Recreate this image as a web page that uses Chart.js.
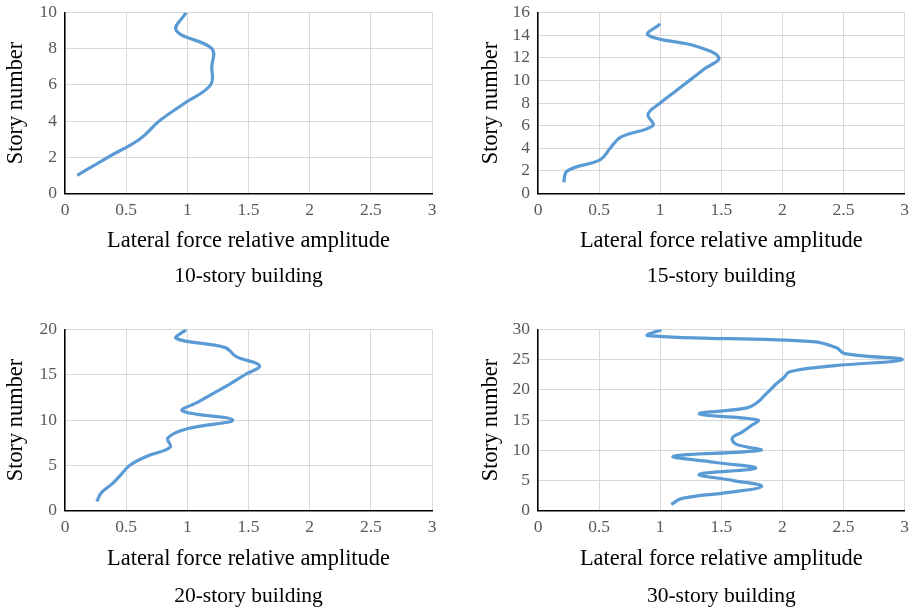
<!DOCTYPE html>
<html>
<head>
<meta charset="utf-8">
<script src="https://cdn.jsdelivr.net/npm/chart.js@4.4.1/dist/chart.umd.min.js"></script>
<style>
  html, body { margin: 0; padding: 0; background: #fff; }
  body { width: 915px; height: 612px; position: relative; overflow: hidden; }
  .panel { position: absolute; }
</style>
</head>
<body>
<div class="panel" style="left:0;top:-6px;width:457px;height:306px"><canvas id="chart10"></canvas></div>
<div class="panel" style="left:470px;top:-6px;width:445px;height:306px"><canvas id="chart15"></canvas></div>
<div class="panel" style="left:0;top:311px;width:457px;height:301px"><canvas id="chart20"></canvas></div>
<div class="panel" style="left:470px;top:311px;width:445px;height:301px"><canvas id="chart30"></canvas></div>
<script>
// story numbers and lateral force relative amplitude
const stories10 = [1, 2, 3, 4, 5, 6, 7, 8, 9, 10];
const amp10 = [0.10, 0.35, 0.61, 0.77, 0.98, 1.19, 1.20, 1.20, 0.91, 0.99];

const stories15 = [1, 2, 3, 4, 5, 6, 7, 8, 9, 10, 11, 12, 13, 14, 15];
const amp15 = [0.21, 0.24, 0.51, 0.59, 0.68, 0.94, 0.90, 1.00, 1.12, 1.24, 1.36, 1.48, 1.30, 0.90, 1.00];

const stories20 = [1, 2, 3, 4, 5, 6, 7, 8, 9, 10, 11, 12, 13, 14, 15, 16, 17, 18, 19, 20];
const amp20 = [0.26, 0.30, 0.39, 0.46, 0.53, 0.67, 0.86, 0.84, 0.99, 1.37, 0.96, 1.09, 1.22, 1.35, 1.47, 1.59, 1.40, 1.31, 0.91, 0.99];

const stories30 = [1, 2, 3, 4, 5, 6, 7, 8, 9, 10, 11, 12, 13, 14, 15,
  16, 17, 18, 19, 20, 21, 22, 23, 24, 25, 26, 27, 28, 29, 30];
const amp30 = [1.09, 1.18, 1.56, 1.83, 1.59, 1.32, 1.78, 1.44, 1.11, 1.82, 1.62, 1.59, 1.67, 1.74, 1.80,
  1.32, 1.71, 1.80, 1.85, 1.90, 1.95, 2.01, 2.06, 2.43, 2.98, 2.51, 2.44, 2.25, 0.90, 1.01];

const xMin = 0, xMax = 3, xStep = 0.5;
const yTitle = 'Story number';
const xTitle = 'Lateral force relative amplitude';

const FONT = "'Liberation Serif', 'Times New Roman', serif";

function drawPanel(id, stories, amps, yMax, yStep, caption, lay) {
  const points = stories.map((s, i) => ({ x: amps[i], y: s }));
  return new Chart(document.getElementById(id), {
    type: 'scatter',
    data: {
      datasets: [{
        data: points,
        showLine: true,
        borderColor: '#5b9bd5',
        backgroundColor: '#5b9bd5',
        borderWidth: 3.2,
        pointRadius: 0,
        tension: 0.4
      }]
    },
    options: {
      responsive: true,
      maintainAspectRatio: false,
      animation: false,
      layout: { padding: { top: 6, right: lay.right, left: 0, bottom: 0 } },
      scales: {
        x: {
          min: xMin,
          max: xMax,
          afterFit: (s) => { s.height = lay.xHeight; },
          ticks: { stepSize: xStep, autoSkip: false, padding: 6, color: '#595959',
            font: { family: FONT, size: 17.5 }, callback: (v) => String(v) },
          grid: { color: '#d9d9d9', drawTicks: false },
          border: { color: '#000', width: 1.5 },
          title: { display: true, text: xTitle, color: '#000', padding: { top: 0, bottom: lay.xTitlePad }, font: { family: FONT, size: 22.4 } }
        },
        y: {
          min: 0,
          max: yMax,
          afterFit: (s) => { s.width = lay.yWidth; },
          ticks: { stepSize: yStep, autoSkip: false, padding: 8, color: '#595959',
            font: { family: FONT, size: 17.5 }, callback: (v) => String(v) },
          grid: { color: '#d9d9d9', drawTicks: false },
          border: { color: '#000', width: 1.5 },
          title: { display: true, text: yTitle, color: '#000', padding: { top: lay.yTitlePad, bottom: 0 }, font: { family: FONT, size: 22.4 } }
        }
      },
      plugins: {
        legend: { display: false },
        tooltip: { enabled: false },
        title: {
          display: true,
          position: 'bottom',
          fullSize: false,
          text: caption,
          color: '#000',
          padding: { top: 6, bottom: lay.capPad },
          font: { family: FONT, size: 21.5, weight: 'normal' }
        }
      }
    }
  });
}

const topLeft = { right: 25, yWidth: 65, yTitlePad: 3, xHeight: 64, xTitlePad: 2.6, capPad: 10.7 };
const topRight = { right: 8, yWidth: 68, yTitlePad: 8, xHeight: 64, xTitlePad: 2.6, capPad: 10.7 };
const botLeft = { right: 25, yWidth: 65, yTitlePad: 3, xHeight: 67, xTitlePad: 4.9, capPad: 2.7 };
const botRight = { right: 8, yWidth: 68, yTitlePad: 8, xHeight: 67, xTitlePad: 4.9, capPad: 2.7 };

drawPanel('chart10', stories10, amp10, 10, 2, '10-story building', topLeft);
drawPanel('chart15', stories15, amp15, 16, 2, '15-story building', topRight);
drawPanel('chart20', stories20, amp20, 20, 5, '20-story building', botLeft);
drawPanel('chart30', stories30, amp30, 30, 5, '30-story building', botRight);
</script>
</body>
</html>
